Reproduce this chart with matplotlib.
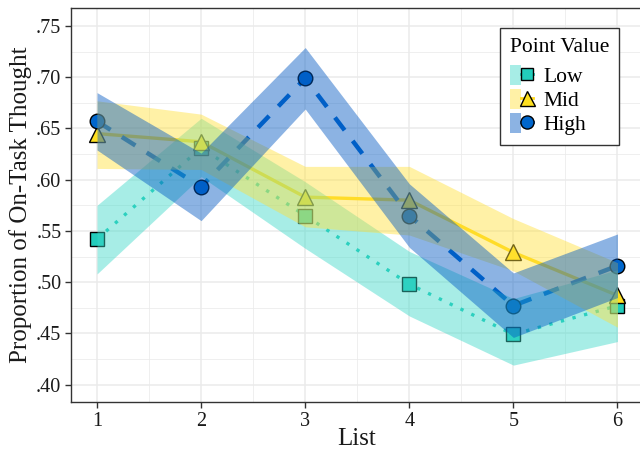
import matplotlib
matplotlib.use("Agg")
import matplotlib.pyplot as plt
from matplotlib.lines import Line2D
from matplotlib.patches import Patch
from matplotlib.legend_handler import HandlerTuple
from matplotlib.ticker import FixedLocator, FuncFormatter

plt.rcParams['font.family'] = ['Liberation Serif', 'DejaVu Serif']

lists = [1, 2, 3, 4, 5, 6]
groups = ["Low", "Mid", "High"]

low = [0.542, 0.631, 0.565, 0.498, 0.449, 0.477]
low_lo = [0.508, 0.603, 0.533, 0.467, 0.419, 0.442]
low_hi = [0.575, 0.660, 0.598, 0.530, 0.484, 0.512]

mid = [0.645, 0.637, 0.583, 0.580, 0.529, 0.487]
mid_lo = [0.611, 0.610, 0.554, 0.546, 0.511, 0.456]
mid_hi = [0.677, 0.664, 0.613, 0.613, 0.562, 0.519]

high = [0.657, 0.593, 0.699, 0.565, 0.477, 0.516]
high_lo = [0.629, 0.560, 0.669, 0.534, 0.446, 0.485]
high_hi = [0.685, 0.626, 0.729, 0.596, 0.509, 0.547]

yticks = [0.40, 0.45, 0.50, 0.55, 0.60, 0.65, 0.70, 0.75]

point_colors = {"Low": "#22CCBB", "Mid": "#FFE020", "High": "#0066CC"}
line_colors = {"Low": "#1FC9B7", "Mid": "#FFD91A", "High": "#0066CC"}
ribbon_colors = {"Low": "#3DD9C9", "Mid": "#FFE03B", "High": "#0058C3"}
markers = {"Low": "s", "Mid": "^", "High": "o"}
msizes = {"Low": 10, "Mid": 12, "High": 10.5}
lstyles = {"Low": (0, (1, 2.6)), "Mid": "-", "High": (0, (3.6, 3.0))}
lwidths = {"Low": 2.4, "Mid": 2.4, "High": 3.2}

series = {"Low": (low, low_lo, low_hi), "Mid": (mid, mid_lo, mid_hi),
          "High": (high, high_lo, high_hi)}

fig = plt.figure(figsize=(6.4, 4.55), dpi=100)
ax = fig.add_axes([71 / 640, 53 / 455, 572.5 / 640, 394 / 455])

for g in groups:
    y, lo, hi = series[g]
    ax.plot(lists, y, color=line_colors[g], linestyle=lstyles[g], lw=lwidths[g],
            zorder=2, dash_capstyle='butt', solid_capstyle='butt')
for g in groups:
    y, lo, hi = series[g]
    ax.plot(lists, y, linestyle='none', marker=markers[g], ms=msizes[g],
            mfc=point_colors[g], mec='black', mew=1.0, zorder=3)
for g in groups:
    y, lo, hi = series[g]
    ax.fill_between(lists, lo, hi, color=ribbon_colors[g], alpha=0.45,
                    lw=0, zorder=4)

ax.set_xlim(0.75, 6.25)
ax.set_ylim(0.383, 0.7676)
ax.set_xticks(lists)
ax.set_xticklabels([str(v) for v in lists])
ax.yaxis.set_major_locator(FixedLocator(yticks))
ax.yaxis.set_major_formatter(FuncFormatter(lambda v, p: ("%.2f" % v).lstrip("0")))
ax.xaxis.set_minor_locator(FixedLocator([1.5, 2.5, 3.5, 4.5, 5.5]))
ax.yaxis.set_minor_locator(FixedLocator([0.425, 0.475, 0.525, 0.575, 0.625, 0.675, 0.725]))
ax.grid(True, which='major', color='#EBEBEB', lw=1.1, zorder=0)
ax.grid(True, which='minor', color='#EBEBEB', lw=0.55, zorder=0)
ax.set_axisbelow(True)
ax.tick_params(which='major', direction='out', length=4, width=1, color='#333333',
               labelsize=14.5, labelcolor='#1a1a1a', pad=3)
ax.tick_params(which='minor', length=0)
for s in ax.spines.values():
    s.set_color('#333333')
    s.set_linewidth(1.0)

fig.text(357 / 640, 1 - 439 / 455, "List", fontsize=18, color='#1a1a1a',
         ha='center', va='center')
fig.text(21 / 640, 1 - 205 / 455, "Proportion of On-Task Thought", fontsize=18,
         color='#1a1a1a', ha='center', va='center', rotation=90)

handles = []
for g in groups:
    patch = Patch(facecolor=ribbon_colors[g], alpha=0.45, edgecolor='none')
    ln = Line2D([], [], color=line_colors[g], lw=2, marker=markers[g],
                ms=msizes[g] * 0.9, mfc=point_colors[g], mec='black', mew=1.0)
    handles.append((patch, ln))

leg = ax.legend(handles, groups, title="Point Value",
                handler_map={tuple: HandlerTuple(ndivide=None, pad=0)},
                loc='upper right', bbox_to_anchor=(619 / 640, 1 - 28 / 455),
                bbox_transform=fig.transFigure, borderaxespad=0,
                fontsize=15.5, title_fontsize=15.5, handlelength=1.05, handleheight=1.05,
                labelspacing=0.08, handletextpad=0.5, borderpad=0.45,
                fancybox=False, framealpha=1, edgecolor='#333333')
leg.get_frame().set_linewidth(1.0)
leg.set_zorder(10)
leg._legend_box.align = "left"
leg._legend_box.sep = 6

fig.savefig("out.png", dpi=100)
